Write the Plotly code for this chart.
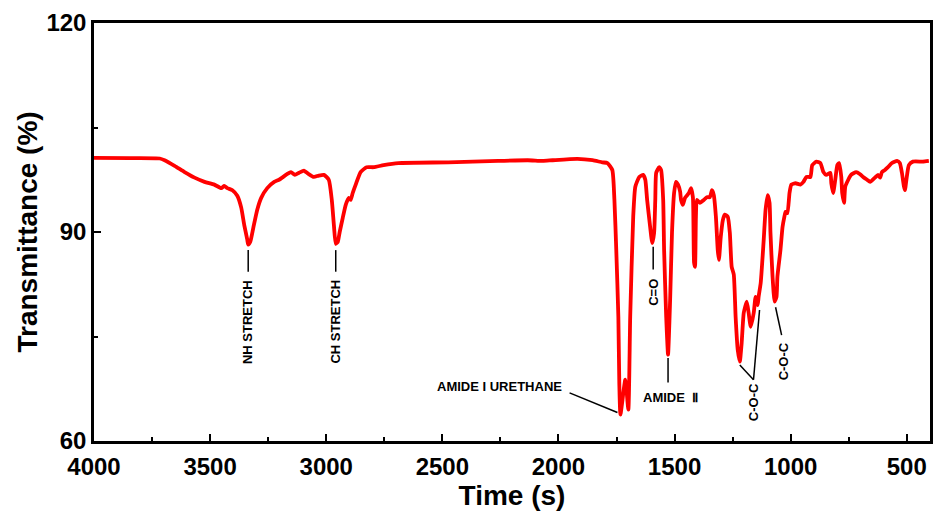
import plotly.graph_objects as go

wavenumber = [4000, 3846, 3717, 3696, 3653, 3610, 3567, 3524, 3482, 3452, 3439, 3426, 3404, 3383, 3366, 3353, 3340, 3336, 3327, 3314, 3297, 3280, 3254, 3224, 3203, 3190, 3169, 3152, 3135, 3117, 3096, 3079, 3053, 3032, 3010, 2989, 2976, 2967, 2959, 2950, 2942, 2929, 2916, 2903, 2895, 2886, 2873, 2852, 2826, 2796, 2753, 2689, 2475, 2260, 2132, 2068, 2025, 1918, 1853, 1811,
              1789, 1768, 1759, 1751, 1742, 1738, 1733, 1712, 1699, 1691, 1678, 1669, 1652, 1635, 1626, 1618, 1605, 1596, 1588, 1583, 1579, 1566, 1558, 1549, 1545, 1536, 1528, 1519, 1511, 1502, 1494, 1485, 1476, 1472, 1464, 1455, 1438, 1429, 1421, 1416, 1412, 1408, 1404, 1391, 1374, 1361, 1348, 1339, 1331, 1322, 1314, 1309, 1301, 1292, 1284, 1271, 1262, 1254, 1245, 1237, 1228, 1219, 1211, 1202, 1189, 1181, 1172, 1159, 1151, 1142, 1138, 1129, 1117, 1108, 1099, 1091, 1087, 1078, 1069, 1061, 1057, 1044, 1035, 1027, 1022, 1014, 1005, 997, 979, 958, 945, 932, 915, 907, 889, 872, 859, 847, 829, 825, 817, 808, 799, 791, 782, 778, 770, 765, 752, 740, 718, 701, 688, 671, 658, 637, 624, 615, 607, 594, 581, 564, 542, 530, 521, 512, 508, 500, 491, 474, 431, 405]

transmittance = [100.63, 100.6, 100.55, 100.3, 99.5, 98.6, 97.8, 97.2, 96.8, 96.3, 96.6, 96.3, 96.0, 95.2, 93.5, 91.0, 88.9, 88.2, 88.6, 90.6, 93.2, 94.9, 96.3, 97.2, 97.5, 97.8, 98.3, 98.6, 98.2, 98.5, 98.8, 98.4, 97.9, 98.1, 98.2, 97.5, 94.6, 91.0, 88.3, 88.6, 90.0, 92.0, 93.9, 94.9, 94.6, 95.6, 96.8, 98.6, 99.3, 99.3, 99.6, 99.9, 100.0, 100.2, 100.3, 100.2, 100.3, 100.5, 100.3, 100.0,
                 99.9, 98.9, 94.6, 87.4, 77.8, 68.4, 63.8, 68.8, 64.5, 77.8, 92.2, 96.5, 97.9, 98.2, 97.5, 94.6, 90.7, 88.4, 89.9, 94.6, 98.5, 99.3, 98.9, 94.6, 87.4, 77.8, 72.4, 80.3, 89.9, 95.6, 97.2, 96.8, 95.8, 94.6, 93.9, 94.9, 95.6, 96.3, 95.0, 85.6, 85.0, 92.2, 94.6, 94.2, 94.6, 95.0, 95.0, 96.0, 95.3, 92.2, 87.4, 86.0, 89.3, 91.7, 92.5, 92.2, 89.9, 85.0, 83.9, 77.8, 73.1, 71.4, 74.1, 78.4, 80.0, 78.4, 76.4, 78.4, 80.7, 79.5, 80.7, 82.7, 88.4, 93.2, 95.3, 94.2, 89.9, 83.6, 80.0, 80.7, 83.6, 87.4, 90.7, 92.2, 92.9, 92.7, 95.6, 96.8, 97.0, 96.8, 97.2, 97.9, 97.9, 99.6, 100.1, 99.9, 98.6, 98.2, 98.5, 97.0, 95.6, 97.5, 99.6, 99.9, 97.9, 95.6, 94.2, 96.5, 97.5, 98.2, 98.6, 98.3, 97.9, 97.5, 97.2, 97.8, 98.2, 97.8, 98.6, 98.9, 99.3, 99.9, 100.2, 99.9, 98.5, 96.5, 96.0, 97.9, 99.6, 100.1, 100.1, 100.2]

x_tick_step = 500
y_tick_step = 30

# vertical labels: text, x (wavenumber), line y0, line y1, text centre y
vertical_labels = [
    ("NH STRETCH", 3336, 87.4, 84.3, 77.1),
    ("CH STRETCH", 2959, 87.4, 84.3, 77.1),
    ("C=O", 1592, 87.9, 84.6, 81.3),
]

FONT = "Liberation Sans, Arial, sans-serif"
lab_font = dict(family=FONT, size=13, color="black", weight="bold")

fig = go.Figure()
fig.add_trace(go.Scatter(x=wavenumber, y=transmittance, mode="lines",
                         line=dict(color="#ff0000", width=3.8, shape="spline", smoothing=0.5),
                         showlegend=False))

for txt, xv, ya, yb, yt in vertical_labels:
    fig.add_shape(type="line", x0=xv, x1=xv, y0=ya, y1=yb, xref="x", yref="y",
                  line=dict(color="black", width=1.5))
    fig.add_annotation(x=xv, y=yt, text=txt, textangle=-90, showarrow=False,
                       font=lab_font, xref="x", yref="y")

# AMIDE II
fig.add_shape(type="line", x0=1528, x1=1528, y0=71.9, y1=68.4, line=dict(color="black", width=1.5))
fig.add_annotation(x=1519, y=66.3, text="AMIDE  Ⅱ", showarrow=False, font=lab_font)

# AMIDE I URETHANE
fig.add_shape(type="line", x0=1952, x1=1746, y0=66.9, y1=64.1, line=dict(color="black", width=1.5))
fig.add_annotation(x=1975, y=67.8, text="AMIDE I URETHANE", showarrow=False,
                   xanchor="right", font=lab_font)

# C-O-C (1)
fig.add_shape(type="line", x0=1219, x1=1160, y0=70.9, y1=68.8, line=dict(color="black", width=1.5))
fig.add_shape(type="line", x0=1134, x1=1160, y0=78.8, y1=68.8, line=dict(color="black", width=1.5))
fig.add_annotation(x=1160, y=65.5, text="C-O-C", textangle=-90, showarrow=False, font=lab_font)

# C-O-C (2)
fig.add_shape(type="line", x0=1065, x1=1039, y0=79.2, y1=75.2, line=dict(color="black", width=1.5))
fig.add_annotation(x=1031, y=71.5, text="C-O-C", textangle=-90, showarrow=False, font=lab_font)

axis_common = dict(
    showline=True, linecolor="black", linewidth=2.5, mirror=True,
    ticks="inside", ticklen=7, tickwidth=2, tickcolor="black",
    showgrid=False, zeroline=False,
    tickfont=dict(family=FONT, size=24, color="black", weight="bold"),
)

fig.update_xaxes(range=[4000, 400], tickmode="linear", tick0=0, dtick=x_tick_step,
                 ticklabelstandoff=2,
                 minor=dict(ticks="inside", ticklen=4, tickwidth=2, tickcolor="black", dtick=x_tick_step / 2),
                 title=dict(text="Time (s)", font=dict(family=FONT, size=28, color="black", weight="bold"), standoff=2),
                 **axis_common)
fig.update_yaxes(range=[60, 120], tickmode="linear", tick0=0, dtick=y_tick_step,
                 minor=dict(ticks="inside", ticklen=4, tickwidth=2, tickcolor="black", dtick=y_tick_step / 2),
                 title=dict(text="Transmittance (%)", font=dict(family=FONT, size=28, color="black", weight="bold"), standoff=1),
                 **axis_common)

fig.update_layout(width=938, height=517, margin=dict(l=94, r=5, t=23, b=76),
                  plot_bgcolor="white", paper_bgcolor="white")

fig.write_html("out.html")
